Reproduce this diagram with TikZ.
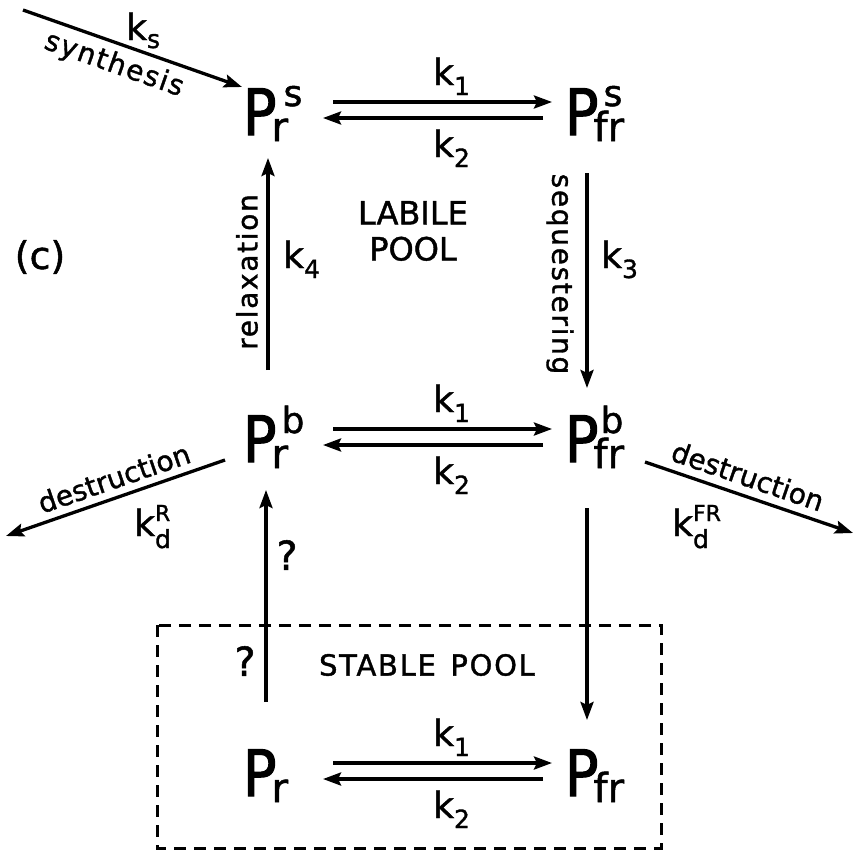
\documentclass[tikz,border=0pt]{standalone}
\usepackage{fontspec}
\setmainfont[FakeBold=1.3]{DejaVu Sans}
\newfontfamily\pfam[FakeStretch=0.87,FakeBold=1.6]{DejaVu Sans}
\newfontfamily\spacedfam[FakeBold=1.3,LetterSpace=6]{DejaVu Sans}
\usetikzlibrary{arrows.meta}
\newcommand{\bigPfont}{\pfam\fontsize{64}{64}\selectfont}
\newcommand{\subPfont}{\fontsize{40}{40}\selectfont}
\newcommand{\supPfont}{\fontsize{36}{36}\selectfont}
\newcommand{\kfont}{\fontsize{36}{36}\selectfont}
\newcommand{\ksubfont}{\fontsize{25}{25}\selectfont}
\newcommand{\ksupfont}{\fontsize{22}{22}\selectfont}
\newcommand{\species}[3]{{\bigPfont P}\hspace{-5pt}\rlap{\hspace{#3}\raisebox{29pt}{\supPfont #2}}\raisebox{-6pt}{\subPfont #1}}
\newcommand{\rate}[1]{k\raisebox{-10pt}{\ksubfont #1}}
\newcommand{\ratedx}[2]{k\rlap{\raisebox{15pt}{\ksupfont #2}}\raisebox{-12pt}{\ksubfont #1}}
\begin{document}
\begin{tikzpicture}[x=1pt,y=-1pt,
  sp/.style={inner sep=0pt, outer sep=0pt, anchor=base west},
  arr/.style={line width=3.3pt, -{Stealth[length=18pt,width=13pt,inset=3pt]}},
  lbl/.style={inner sep=0pt, font=\fontsize{28}{28}\selectfont},
  slbl/.style={inner sep=0pt, font=\spacedfam\fontsize{28}{28}\selectfont},
  rk/.style={inner sep=0pt, anchor=base west, font=\kfont},
  txt/.style={inner sep=0pt}]
\useasboundingbox (0,0) rectangle (855,854);

% species
\node[sp] (prs)  at (243,135) {\species{r}{s}{12pt}};
\node[sp] (pfrs) at (565,135) {\species{fr}{s}{10pt}};
\node[sp] (prb)  at (243,462) {\species{r}{b}{10pt}};
\node[sp] (pfrb) at (565,462) {\species{fr}{b}{7pt}};
\node[sp] (pr)   at (243,796) {\species{r}{}{0pt}};
\node[sp] (pfr)  at (565,796) {\species{fr}{}{0pt}};

% reversible pairs
\foreach \a/\b in {prs/pfrs, prb/pfrb, pr/pfr}{
  \draw[arr] ([shift={(90,-33)}]\a.base west) -- ([shift={(-13,-33)}]\b.base west);
  \draw[arr] ([shift={(-22,-17)}]\b.base west) -- ([shift={(80,-17)}]\a.base west);
}
\foreach \B in {135,462,796}{
  \node[rk] at (433,\B-50) {\rate{1}};
  \node[rk] at (433,\B+22) {\rate{2}};
}

% vertical arrows
\draw[arr] ([shift={(25,-92)}]prb.base west) -- ([shift={(25,23)}]prs.base west);
\draw[arr] ([shift={(22,38)}]pfrs.base west) -- ([shift={(22,-74)}]pfrb.base west);
\draw[arr] ([shift={(23,-94)}]pr.base west) -- ([shift={(23,28)}]prb.base west);
\draw[arr] ([shift={(22,46)}]pfrb.base west) -- ([shift={(22,-76)}]pfr.base west);

% diagonal arrows
\coordinate (synstart) at (23,10);
\coordinate (dl) at (6,536);
\coordinate (dr) at (853,533);
\draw[arr] (synstart) -- ([shift={(-1,-48)}]prs.base west);
\draw[arr] ([shift={(-18,-2)}]prb.base west) -- (dl);
\draw[arr] ([shift={(80,0)}]pfrb.base west) -- (dr);

% labels
\node[slbl, rotate=-19.4] at (114,65) {synthesis};
\node[rk] at (126,40) {k\raisebox{-8pt}{\ksubfont s}};
\node[lbl, rotate=19] at (114,478) {destruction};
\node[rk] at (134,536) {\ratedx{d}{R}};
\node[lbl, rotate=-19] at (748,476) {destruction};
\node[rk] at (672,536) {\ratedx{d}{FR}};
\node[slbl, rotate=90] at (247,272) {relaxation};
\node[rk] at (283,268) {\rate{4}};
\node[slbl, rotate=-90] at (560,274) {sequestering};
\node[rk] at (601,268) {\rate{3}};
\node[txt, font=\fontsize{32}{36}\selectfont, align=center] at (413,231) {LABILE\\POOL};
\node[txt, font=\fontsize{38}{38}\selectfont] at (40,257) {(c)};
\node[txt, font=\fontsize{40}{40}\selectfont] at (287,555) {?};
\node[txt, font=\fontsize{40}{40}\selectfont] at (245,661) {?};
\node[txt, font=\spacedfam\fontsize{29}{29}\selectfont] at (427,665) {STABLE\hspace{0.5em}POOL};

% stable pool box
\draw[line width=3pt, dash pattern=on 12pt off 8pt] (157,625) rectangle (661,848);
\end{tikzpicture}
\end{document}
